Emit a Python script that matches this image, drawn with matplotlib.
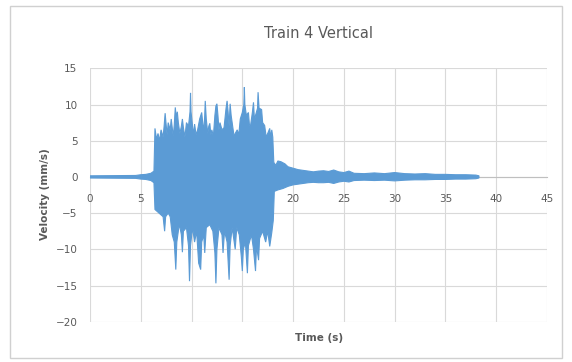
import numpy as np
import matplotlib.pyplot as plt
from matplotlib.patches import Rectangle

# upper envelope of the velocity record (time s, mm/s)
t_up = [0, 4.5, 5.0, 5.5, 6.0, 6.3, 6.4, 6.55, 6.7, 6.85, 7.0, 7.2, 7.3, 7.4, 7.5, 7.6, 7.7,
        7.9, 8.0, 8.1, 8.2, 8.3, 8.4, 8.5, 8.6, 8.7, 8.85, 9.0, 9.1, 9.2, 9.35, 9.5, 9.7,
        9.85, 9.9, 9.95, 10.1, 10.2, 10.3, 10.45, 10.6, 10.8, 11.0, 11.1, 11.2, 11.3,
        11.35, 11.45, 11.6, 11.7, 11.8, 11.9, 12.0, 12.15, 12.3, 12.4, 12.5, 12.6, 12.7,
        12.8, 13.0, 13.2, 13.4, 13.5, 13.6, 13.7, 13.8, 13.9, 14.1, 14.2, 14.3, 14.5,
        14.65, 14.8, 15.0, 15.15, 15.2, 15.25, 15.4, 15.6, 15.7, 15.8, 16.0, 16.1, 16.2,
        16.3, 16.5, 16.55, 16.65, 16.9, 17.0, 17.2, 17.35, 17.5, 17.7, 17.8, 17.9, 18.0,
        18.1, 18.3, 18.5, 18.8, 19.2, 19.5, 20.0, 20.5, 21.0, 21.5, 22.0, 22.5, 23.0,
        23.5, 24.0, 24.5, 25.0, 25.5, 26.0, 27.0, 28.0, 29.0, 30.0, 31.0, 32.0, 33.0,
        34.0, 35.0, 36.0, 37.0, 38.0, 38.3]
v_up = [0.15, 0.2, 0.3, 0.35, 0.5, 0.8, 6.7, 5.2, 6.0, 5.0, 6.5, 5.5, 7.0, 8.8, 7.2, 5.8, 7.5,
        6.5, 8.0, 6.8, 5.6, 7.2, 9.6, 8.2, 9.0, 7.5, 6.0, 7.0, 8.0, 6.8, 5.5, 7.5, 7.0,
        9.0, 11.6, 9.0, 7.0, 5.8, 7.3, 5.8, 6.5, 8.0, 8.9, 7.5, 6.2, 8.5,
        10.5, 8.0, 6.0, 7.0, 7.4, 5.8, 6.5, 5.6, 8.5, 9.8, 10.1, 8.5, 6.5,
        7.5, 6.5, 6.8, 9.5, 10.5, 9.0, 7.0, 10.1, 8.5, 6.5, 5.5, 6.0, 6.5,
        5.8, 8.0, 8.9, 10.0, 12.4, 10.0, 8.5, 8.9, 7.2, 7.0, 9.0, 10.3, 7.8,
        8.5, 9.5, 11.7, 9.5, 9.3, 7.5, 7.1, 5.5, 6.0, 6.7, 5.4, 6.5, 5.5,
        2.0, 1.6, 2.2, 2.1, 1.8, 1.4, 1.2, 1.0, 0.9, 0.8, 0.7, 0.8, 0.85,
        0.75, 0.95, 0.7, 0.6, 0.8, 0.5, 0.45, 0.55, 0.45, 0.6, 0.45, 0.4, 0.45,
        0.35, 0.35, 0.3, 0.3, 0.25, 0.15]

# lower envelope
t_lo = [0, 4.5, 5.0, 5.5, 6.0, 6.3, 6.4, 6.8, 7.2, 7.35, 7.45, 7.7, 7.9, 8.1, 8.3, 8.45,
        8.55, 8.8, 9.0, 9.1, 9.2, 9.5, 9.7, 9.8, 9.9, 10.1, 10.3, 10.5, 10.7, 10.9, 11.0,
        11.2, 11.3, 11.45, 11.8, 12.1, 12.3, 12.4, 12.5, 12.7, 13.0, 13.1, 13.25, 13.5,
        13.7, 13.8, 14.0, 14.3, 14.45, 14.7, 14.9, 15.0, 15.1, 15.3, 15.5, 15.6, 15.9,
        16.1, 16.3, 16.4, 16.6, 16.7, 17.0, 17.3, 17.5, 17.7, 17.9, 18.05, 18.15, 18.5,
        19.0, 19.5, 20.0, 20.5, 21.0, 21.5, 22.0, 22.5, 23.0, 23.5, 24.0, 24.5, 25.0,
        25.5, 26.0, 27.0, 28.0, 29.0, 30.0, 31.0, 32.0, 33.0, 34.0, 35.0, 36.0, 37.0,
        38.0, 38.3]
v_lo = [-0.15, -0.2, -0.3, -0.35, -0.5, -0.8, -4.5, -5.0, -5.5, -7.5, -5.5, -5.0, -5.5, -8.0, -9.0, -12.8,
        -9.0, -6.5, -8.0, -10.4, -7.5, -7.0, -9.5, -14.4, -9.5, -7.0, -9.0, -7.5, -11.9, -12.8, -9.0,
        -8.0, -10.5, -7.0, -6.6, -7.5, -10.5, -14.7, -10.0, -7.0, -8.0, -10.5, -7.5, -9.0,
        -14.2, -9.5, -7.0, -10.0, -7.0, -8.0, -11.0, -13.0, -10.0, -9.0, -13.3, -9.5, -8.0,
        -10.0, -13.0, -9.5, -11.5, -8.5, -7.5, -9.0, -7.5, -9.6, -7.7, -6.0, -2.0, -1.8,
        -1.6, -1.3, -1.1, -1.0, -0.9, -0.8, -0.75, -0.8, -0.8, -0.75, -0.9, -0.7, -0.6,
        -0.7, -0.5, -0.45, -0.5, -0.45, -0.55, -0.45, -0.4, -0.4, -0.35, -0.35, -0.3, -0.3,
        -0.25, -0.15]

x_ticks = [0, 5, 10, 15, 20, 25, 30, 35, 40, 45]
y_ticks = [-20, -15, -10, -5, 0, 5, 10, 15]

blue = '#5B9BD5'
grey_txt = '#595959'
grid_c = '#D9D9D9'

fig = plt.figure(figsize=(5.72, 3.62), dpi=100)
fig.patches.append(Rectangle((0.018, 0.012), 0.964, 0.972, transform=fig.transFigure,
                             fill=False, edgecolor='#D0D0D0', linewidth=1.0))
ax = fig.add_axes([0.1573, 0.1113, 0.799, 0.700])

xs = np.r_[t_up, t_lo[::-1]]
ys = np.r_[v_up, v_lo[::-1]]
ax.fill(xs, ys, color=blue, linewidth=0.8, edgecolor=blue, zorder=3)

ax.set_xlim(0, 45)
ax.set_ylim(-20, 15)
ax.set_xticks(x_ticks)
ax.set_yticks(y_ticks)
ax.grid(True, color=grid_c, linewidth=0.8)
ax.set_axisbelow(True)
for s in ['top', 'right', 'left']:
    ax.spines[s].set_visible(False)
ax.spines['bottom'].set_position(('data', 0))
ax.spines['bottom'].set_color('#BFBFBF')
ax.spines['bottom'].set_zorder(2)
ax.tick_params(length=0, labelsize=7.5, labelcolor=grey_txt)
ax.tick_params(axis='x', pad=12)
ax.tick_params(axis='y', pad=9)

ax.set_title('Train 4 Vertical', fontsize=10.5, color=grey_txt, pad=22)
fig.text(0.079, 0.465, 'Velocity (mm/s)', rotation=90, ha='center', va='center',
         fontsize=7.5, fontweight='bold', color=grey_txt)
fig.text(0.557, 0.066, 'Time (s)', ha='center', va='center',
         fontsize=7.5, fontweight='bold', color=grey_txt)

fig.savefig('out.png', dpi=100)
